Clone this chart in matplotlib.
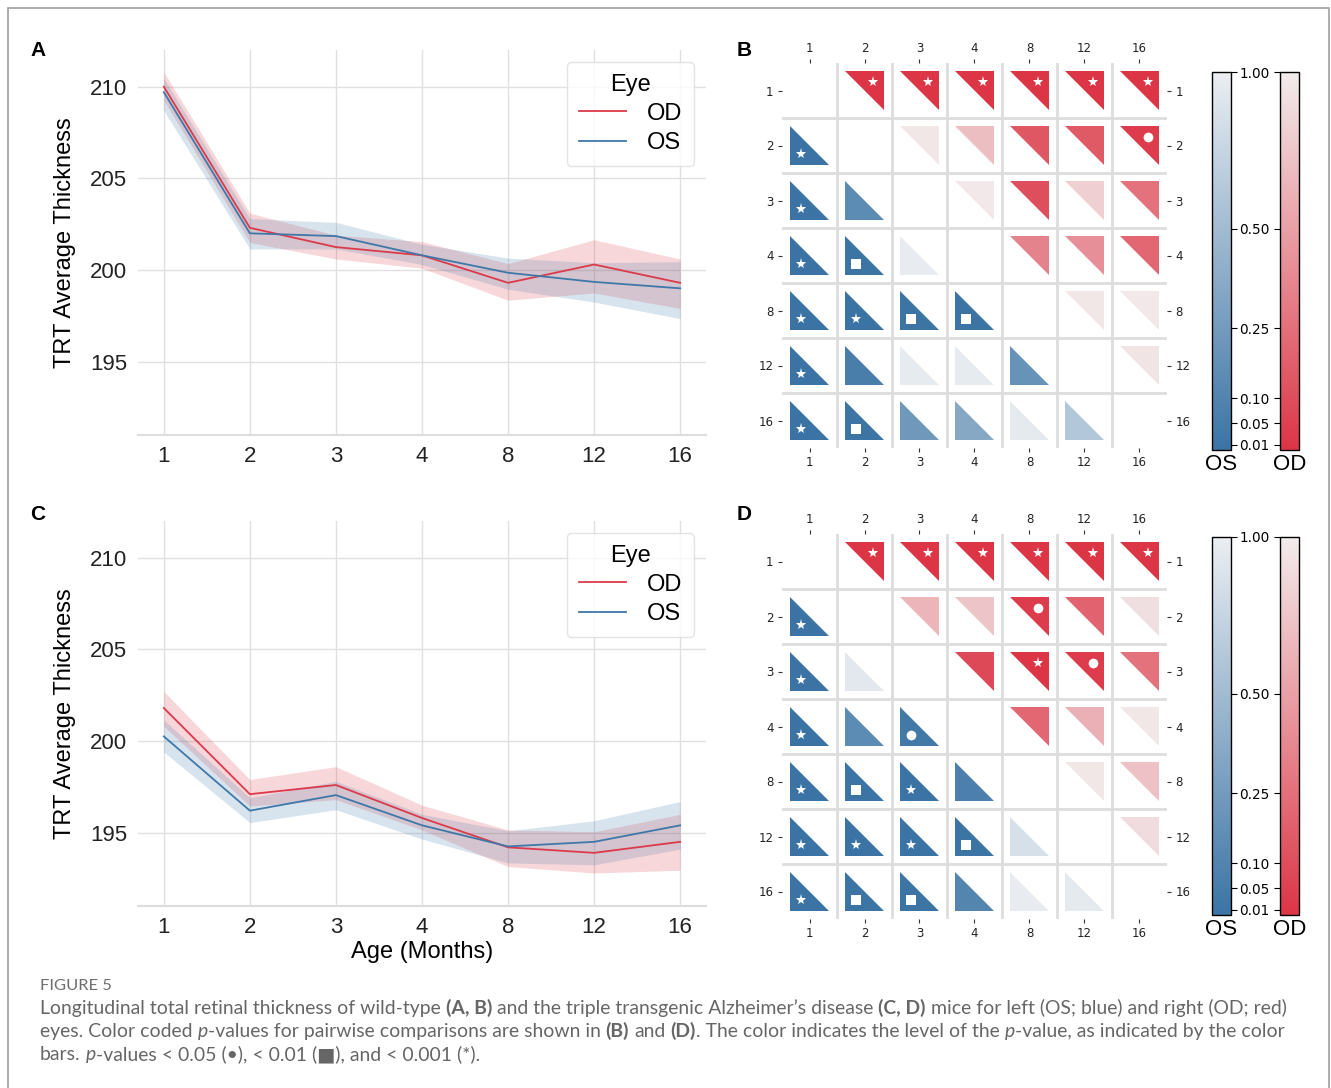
import numpy as np
import matplotlib
matplotlib.use("Agg")
import matplotlib.pyplot as plt
from matplotlib.colors import LinearSegmentedColormap, FuncNorm
from matplotlib.patches import Polygon, Rectangle
from matplotlib.cm import ScalarMappable

plt.rcParams['font.family'] = ['Liberation Sans', 'DejaVu Sans']

W, H = 1331, 1088

ages = ["1", "2", "3", "4", "8", "12", "16"]

# wild-type (A): mean and 95% CI band
wt_od_mean = [210.0, 202.3, 201.25, 200.8, 199.3, 200.3, 199.3]
wt_od_lo = [209.25, 201.5, 200.6, 200.1, 198.35, 198.75, 197.9]
wt_od_hi = [210.8, 203.1, 201.9, 201.55, 200.35, 201.65, 200.6]
wt_os_mean = [209.7, 202.0, 201.85, 200.8, 199.85, 199.35, 199.0]
wt_os_lo = [208.7, 201.15, 201.15, 200.3, 198.95, 198.25, 197.35]
wt_os_hi = [210.45, 202.8, 202.6, 201.4, 200.65, 200.4, 200.45]

# 3xTg-AD (C)
tg_od_mean = [201.8, 197.1, 197.6, 195.8, 194.2, 193.9, 194.5]
tg_od_lo = [200.8, 196.45, 196.8, 195.15, 193.15, 192.8, 192.95]
tg_od_hi = [202.7, 197.9, 198.6, 196.5, 195.15, 195.05, 196.0]
tg_os_mean = [200.25, 196.2, 197.05, 195.4, 194.25, 194.5, 195.4]
tg_os_lo = [199.4, 195.55, 196.25, 194.65, 193.35, 193.25, 194.1]
tg_os_hi = [201.15, 196.9, 197.8, 196.0, 195.1, 195.65, 196.7]

# pairwise p-values: upper triangle = OD, lower triangle = OS
nan = np.nan
p_wt = [
    [nan, 0.0001, 0.0001, 0.0001, 0.0001, 0.0001, 0.0001],
    [0.0001, nan, 0.96, 0.68, 0.14, 0.15, 0.03],
    [0.0001, 0.14, nan, 0.97, 0.1, 0.79, 0.26],
    [0.0001, 0.005, 0.97, nan, 0.34, 0.41, 0.21],
    [0.0001, 0.0001, 0.005, 0.005, nan, 0.96, 0.97],
    [0.0001, 0.06, 0.96, 0.96, 0.19, nan, 0.94],
    [0.0001, 0.005, 0.23, 0.34, 0.95, 0.6, nan],
]
p_tg = [
    [nan, 0.0001, 0.0001, 0.0001, 0.0001, 0.0001, 0.0001],
    [0.0001, nan, 0.62, 0.72, 0.03, 0.19, 0.9],
    [0.0001, 0.93, nan, 0.08, 0.0001, 0.03, 0.26],
    [0.0001, 0.14, 0.03, nan, 0.21, 0.59, 0.96],
    [0.0001, 0.005, 0.0001, 0.07, nan, 0.96, 0.7],
    [0.0001, 0.0001, 0.0001, 0.005, 0.84, nan, 0.88],
    [0.0001, 0.005, 0.005, 0.1, 0.97, 0.95, nan],
]
cbar_ticks = [0.01, 0.05, 0.10, 0.25, 0.50, 1.00]

red = "#dc3a4a"
blue = "#3f78a8"
cmap_od = LinearSegmentedColormap.from_list("od", ["#dc3545", "#f2ecec"])
cmap_os = LinearSegmentedColormap.from_list("os", ["#3b74a4", "#ebeef2"])
norm = FuncNorm((lambda p: np.log2(1 + np.asarray(p, float)),
                 lambda y: 2.0 ** np.asarray(y, float) - 1), vmin=0, vmax=1)

fig = plt.figure(figsize=(W / 100, H / 100), dpi=100)


def px_axes(x0, y0, x1, y1):
    return fig.add_axes([x0 / W, 1 - y1 / H, (x1 - x0) / W, (y1 - y0) / H])


def line_panel(ax, od_m, od_lo, od_hi, os_m, os_lo, os_hi, xlabel=None):
    x = np.arange(len(ages))
    ax.fill_between(x, od_lo, od_hi, color=red, alpha=0.2, lw=0)
    ax.fill_between(x, os_lo, os_hi, color=blue, alpha=0.2, lw=0)
    ax.plot(x, od_m, color=red, lw=1.3, label="OD")
    ax.plot(x, os_m, color=blue, lw=1.3, label="OS")
    ax.set_xlim(-0.3, 6.3)
    ax.set_ylim(191.0, 212.0)
    ax.set_xticks(x)
    ax.set_xticklabels(ages)
    ax.set_yticks([195, 200, 205, 210])
    ax.grid(True, color="#e0e0e0", lw=1)
    ax.set_axisbelow(True)
    for s in ["left", "top", "right"]:
        ax.spines[s].set_visible(False)
    ax.spines["bottom"].set_color("#dddddd")
    ax.spines["bottom"].set_linewidth(1.5)
    ax.tick_params(length=0, labelsize=16, pad=8, labelcolor="#222222")
    ax.set_ylabel("TRT Average Thickness", fontsize=17, labelpad=10)
    if xlabel:
        ax.set_xlabel(xlabel, fontsize=17, labelpad=2)
    leg = ax.legend(title="Eye", loc="upper right", fontsize=17, title_fontsize=17,
                    frameon=True, edgecolor="#dddddd", handlelength=2.0,
                    borderpad=0.5, labelspacing=0.3, handletextpad=0.9)
    leg.get_frame().set_linewidth(1)


def matrix_panel(ax, pmat):
    n = len(ages)
    h = 0.35
    d = 0.15
    for i in range(n):
        for j in range(n):
            if i == j:
                continue
            p = pmat[i][j]
            if j > i:
                cmap = cmap_od
                verts = [(j - h, i - h), (j + h, i - h), (j + h, i + h)]
                mx, my = j + d, i - d
            else:
                cmap = cmap_os
                verts = [(j - h, i - h), (j - h, i + h), (j + h, i + h)]
                mx, my = j - d, i + d
            ax.add_patch(Polygon(verts, closed=True, facecolor=cmap(norm(p)), edgecolor="none"))
            if p < 0.001:
                ax.plot(mx, my, marker="*", color="white", ms=8, mew=0)
            elif p < 0.01:
                ax.plot(mx, my, marker="s", color="white", ms=7, mew=0)
            elif p < 0.05:
                ax.plot(mx, my, marker="o", color="white", ms=7, mew=0)
    ax.set_xlim(-0.5, n - 0.5)
    ax.set_ylim(n - 0.5, -0.5)
    ax.set_xticks(np.arange(n))
    ax.set_yticks(np.arange(n))
    ax.set_xticklabels(ages, family="DejaVu Sans")
    ax.set_yticklabels(ages, family="DejaVu Sans")
    ax.set_xticks(np.arange(0.5, n - 1), minor=True)
    ax.set_yticks(np.arange(0.5, n - 1), minor=True)
    ax.grid(which="minor", color="#dddddd", lw=2)
    ax.set_axisbelow(True)
    for s in ax.spines.values():
        s.set_visible(False)
    ax.tick_params(which="major", top=True, bottom=True, left=True, right=True,
                   labeltop=True, labelright=True, length=3, width=0.8,
                   color="#333333", labelsize=8.5, labelcolor="#222222", pad=3)
    ax.tick_params(which="minor", length=0)


def colorbars(y0, y1):
    cax_os = px_axes(1212, y0, 1231, y1)
    cax_od = px_axes(1280, y0, 1299, y1)
    for cax, cmap, lab in [(cax_os, cmap_os, "OS"), (cax_od, cmap_od, "OD")]:
        cb = fig.colorbar(ScalarMappable(norm=norm, cmap=cmap), cax=cax)
        cb.set_ticks(cbar_ticks)
        cb.minorticks_off()
        cb.outline.set_linewidth(1)
        cax.yaxis.set_major_formatter("{x:.2f}")
        cax.text(0.5, -0.01, lab, transform=cax.transAxes, ha="center", va="top", fontsize=16)
    cax_os.yaxis.set_ticks_position("right")
    cax_os.tick_params(length=4, width=0.8, labelsize=9.8, pad=2)
    for t in cax_os.get_yticklabels():
        t.set_family("DejaVu Sans")
    cax_od.yaxis.set_ticks_position("left")
    cax_od.tick_params(length=4, width=0.8, labelleft=False)


ax_a = px_axes(138, 50, 706, 435)
line_panel(ax_a, wt_od_mean, wt_od_lo, wt_od_hi, wt_os_mean, wt_os_lo, wt_os_hi)
ax_c = px_axes(138, 521, 706, 906)
line_panel(ax_c, tg_od_mean, tg_od_lo, tg_od_hi, tg_os_mean, tg_os_lo, tg_os_hi, xlabel="Age (Months)")

ax_b = px_axes(782, 63, 1167, 448)
matrix_panel(ax_b, p_wt)
ax_d = px_axes(782, 534, 1167, 919)
matrix_panel(ax_d, p_tg)

colorbars(72, 450)
colorbars(537, 915)

for lab, x, y in [("A", 30, 50), ("B", 737, 50), ("C", 30, 515), ("D", 737, 515)]:
    fig.text(x / W, 1 - y / H, lab, fontsize=15, fontweight="bold", va="center", ha="left")

# frame around the figure
fig.patches.append(Rectangle((8 / W, -0.05), 1321 / W, 1.05 - 8 / H, transform=fig.transFigure,
                             fill=False, edgecolor="#a0a0a0", lw=1.2))

# caption
cap_font = ["Lato", "DejaVu Sans"]
cap_color = "#666666"
renderer = fig.canvas.get_renderer()


def text_width(s, size, weight="normal", style="normal"):
    t = fig.text(0, 0, s, fontsize=size, fontweight=weight, fontstyle=style, family=cap_font)
    w = t.get_window_extent(renderer).width
    t.remove()
    return w


caption = [
    [("Longitudinal total retinal thickness of wild-type ", "n"), ("(A, B)", "b"),
     (" and the triple transgenic Alzheimer\u2019s disease ", "n"), ("(C, D)", "b"),
     (" mice for left (OS; blue) and right (OD; red)", "n")],
    [("eyes. Color coded ", "n"), ("p", "i"), ("-values for pairwise comparisons are shown in ", "n"),
     ("(B)", "b"), (" and ", "n"), ("(D)", "b"), (". The color indicates the level of the ", "n"),
     ("p", "i"), ("-value, as indicated by the color", "n")],
    [("bars. ", "n"), ("p", "i"), ("-values < 0.05 (\u2022), < 0.01 (\u25a0), and < 0.001 (*).", "n")],
]


def seg_width(s, kind, size):
    weight = "bold" if kind == "b" else "normal"
    style = "italic" if kind == "i" else "normal"
    core = s.strip(" ")
    sp = text_width("x x", size) - text_width("xx", size)
    nsp = len(s) - len(core)
    return (text_width(core, size, weight, style) if core else 0) + nsp * sp


base = 12
w1 = sum(seg_width(s, k, base) for s, k in caption[0])
cap_size = base * 1242 / w1

fig.text(40 / W, 1 - 990 / H, "FIGURE 5", fontsize=cap_size * 0.85, color="#6e6e6e",
         family=cap_font, va="baseline")
sp = text_width("x x", cap_size) - text_width("xx", cap_size)
for li, line in enumerate(caption):
    x = 40
    y = 1014 + li * 23
    for s, k in line:
        weight = "bold" if k == "b" else "normal"
        style = "italic" if k == "i" else "normal"
        lead = len(s) - len(s.lstrip(" "))
        trail = len(s) - len(s.rstrip(" "))
        core = s.strip(" ")
        x += lead * sp
        if core:
            t = fig.text(x / W, 1 - y / H, core, fontsize=cap_size, fontweight=weight,
                         fontstyle=style, color=cap_color, family=cap_font, va="baseline")
            x += t.get_window_extent(renderer).width
        x += trail * sp

fig.savefig("out.png", dpi=100)
